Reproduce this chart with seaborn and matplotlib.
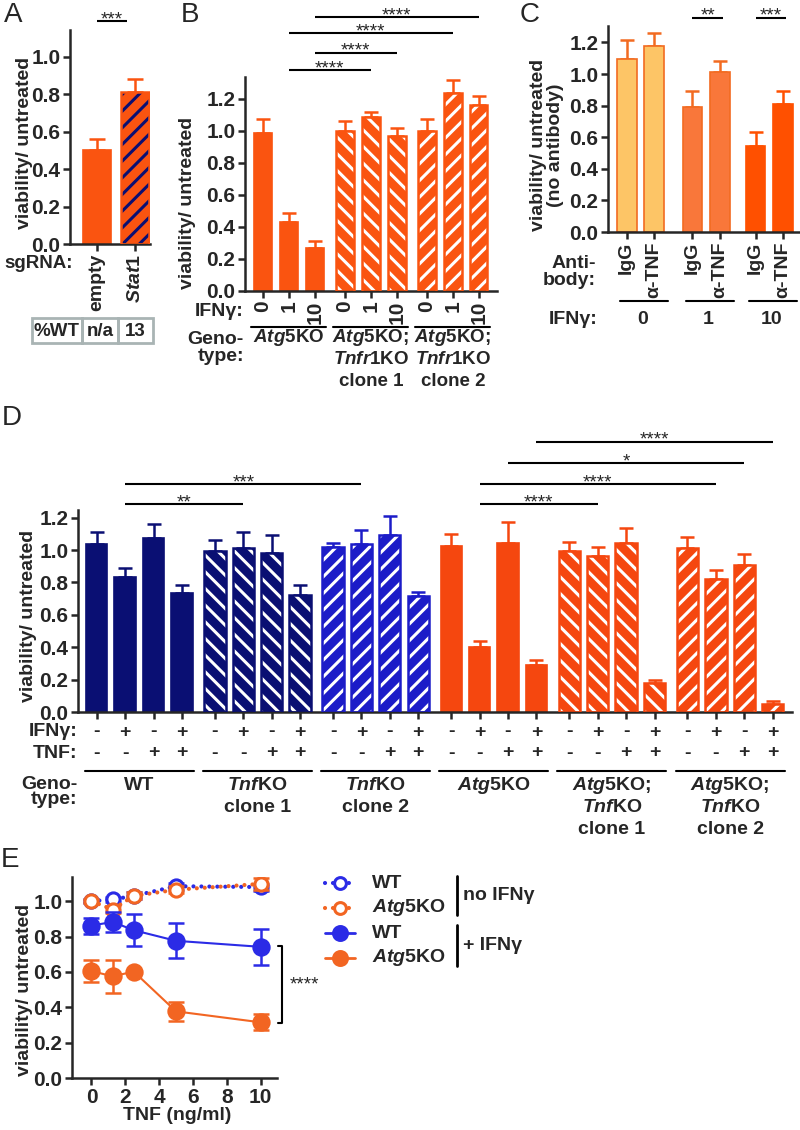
import numpy as np
import matplotlib
matplotlib.use('Agg')
import matplotlib.pyplot as plt
import matplotlib.transforms as mtransforms
from matplotlib.patches import Rectangle
from matplotlib.ticker import FormatStrFormatter
import seaborn as sns

# ---------------- data ----------------
# A: Stat1 knockout
A_SGRNA = ['empty', r'$\it{Stat1}$']
A_MEAN = [0.50, 0.81]
A_ERR = [0.06, 0.07]
A_TABLE = ['%WT', 'n/a', '13']
A_SIG = [(0, 1, '***')]

# B: Tnfr1 knockout
B_IFN = ['0', '1', '10'] * 3
B_GENO = [[r'$\it{Atg5}$KO'],
          [r'$\it{Atg5}$KO;', r'$\it{Tnfr1}$KO', 'clone 1'],
          [r'$\it{Atg5}$KO;', r'$\it{Tnfr1}$KO', 'clone 2']]
B_MEAN = [0.99, 0.43, 0.27, 1.00, 1.09, 0.97, 1.00, 1.24, 1.16]
B_ERR = [0.086, 0.06, 0.045, 0.062, 0.031, 0.05, 0.075, 0.08, 0.057]
B_SIG = [(2, 8, '****'), (1, 7, '****'), (2, 5, '****'), (1, 4, '****')]

# C: anti-TNF antibody
C_AB = ['IgG', 'α-TNF'] * 3
C_IFN = ['0', '1', '10']
C_MEAN = [1.095, 1.18, 0.79, 1.015, 0.545, 0.81]
C_ERR = [0.12, 0.08, 0.105, 0.065, 0.085, 0.085]
C_SIG = [(2, 3, '**'), (4, 5, '***')]

# D: Tnf knockout
D_IFN = ['-', '+', '-', '+'] * 6
D_TNF = ['-', '-', '+', '+'] * 6
D_GENO = [['WT'],
          [r'$\it{Tnf}$KO', 'clone 1'],
          [r'$\it{Tnf}$KO', 'clone 2'],
          [r'$\it{Atg5}$KO'],
          [r'$\it{Atg5}$KO;', r'$\it{Tnf}$KO', 'clone 1'],
          [r'$\it{Atg5}$KO;', r'$\it{Tnf}$KO', 'clone 2']]
D_MEAN = [1.035, 0.834, 1.075, 0.733,
          0.996, 1.014, 0.983, 0.72,
          1.017, 1.037, 1.095, 0.714,
          1.025, 0.40, 1.045, 0.29,
          0.994, 0.963, 1.045, 0.18,
          1.014, 0.818, 0.907, 0.05]
D_ERR = [0.075, 0.056, 0.088, 0.05,
         0.064, 0.096, 0.11, 0.063,
         0.028, 0.085, 0.115, 0.027,
         0.072, 0.04, 0.13, 0.03,
         0.056, 0.057, 0.09, 0.02,
         0.066, 0.056, 0.07, 0.02]
D_SIG = [(15, 23, '****'), (14, 22, '*'), (13, 21, '****'),
         (13, 17, '****'), (1, 9, '***'), (1, 5, '**')]

# E: TNF dose response
E_TNF = [0, 1.25, 2.5, 5, 10]
E_WT_NO = [1.0, 1.01, 1.03, 1.085, 1.08]
E_WT_NO_ERR = [0.01, 0.015, 0.02, 0.02, 0.02]
E_ATG_NO = [1.0, 0.953, 1.03, 1.065, 1.098]
E_ATG_NO_ERR = [0.01, 0.02, 0.02, 0.02, 0.035]
E_WT_IFN = [0.862, 0.883, 0.836, 0.776, 0.742]
E_WT_IFN_ERR = [0.045, 0.055, 0.092, 0.1, 0.102]
E_ATG_IFN = [0.605, 0.575, 0.602, 0.377, 0.315]
E_ATG_IFN_ERR = [0.062, 0.095, 0.01, 0.055, 0.045]
E_LEGEND = ['WT', r'$\it{Atg5}$KO', 'WT', r'$\it{Atg5}$KO']

# ---------------- style ----------------
sns.set_style('ticks')
plt.rcParams['font.family'] = ['Liberation Sans', 'DejaVu Sans']
plt.rcParams['font.weight'] = 'bold'
plt.rcParams['mathtext.fontset'] = 'custom'
plt.rcParams['mathtext.it'] = 'Liberation Sans:italic:bold'
plt.rcParams['mathtext.rm'] = 'Liberation Sans:bold'
plt.rcParams['mathtext.bf'] = 'Liberation Sans:bold'
plt.rcParams['hatch.linewidth'] = 2.2

FS = 14          # general text
FS_TICK = 15     # tick labels
FS_YLAB = 14     # y axis titles
FS_STAR = 13.5
ORANGE = '#FA5410'
ORANGE_D = '#F5470F'
NAVY = '#0A0F73'
BLUE = '#1C1CC8'
C_LIGHT, C_MID, C_DARK, C_EDGE = '#FDC566', '#F9773A', '#FF5000', '#F26B21'
E_BLUE, E_ORANGE = '#2B2BE6', '#F26522'
GRAY = '#A9B4B4'

W, H = 800, 1130
fig = plt.figure(figsize=(W / 100, H / 100), dpi=100)
ov = fig.add_axes([0, 0, 1, 1])
ov.set_xlim(0, W)
ov.set_ylim(H, 0)
ov.axis('off')
ov.set_zorder(10)


def px_axes(l, t, r, b):
    return fig.add_axes([l / W, 1 - b / H, (r - l) / W, (b - t) / H])


def txt(x, y, s, **kw):
    kw.setdefault('fontsize', FS)
    kw.setdefault('fontweight', 'bold')
    kw.setdefault('ha', 'center')
    kw.setdefault('va', 'center')
    ov.text(x, y, s, **kw)


def style_axes(ax):
    sns.despine(ax=ax)
    for s in ['left', 'bottom']:
        ax.spines[s].set_linewidth(1.8)
    ax.tick_params(direction='out', length=5, width=1.8, labelsize=FS_TICK, pad=2)
    ax.yaxis.set_major_formatter(FormatStrFormatter('%.1f'))
    ax.set_facecolor('none')


def draw_bars(ax, pos, mean, err, face, edge, hatch, hcol, width, cap):
    for x, m, e, fc, ec, h, hc in zip(pos, mean, err, face, edge, hatch, hcol):
        if h:
            ax.bar(x, m, width, color=fc, edgecolor=hc, hatch=h, linewidth=0, zorder=2)
            ax.bar(x, m, width, facecolor='none', edgecolor=ec, linewidth=1.8, zorder=3)
        else:
            ax.bar(x, m, width, color=fc, edgecolor=ec, linewidth=1.2, zorder=2)
        ax.errorbar(x, m, yerr=[[0], [e]], fmt='none', ecolor=ec, elinewidth=1.8,
                    capsize=cap, capthick=1.8, zorder=1)


def sig(ax, x0, x1, y, s):
    ax.plot([x0, x1], [y, y], color='k', lw=1.5, clip_on=False, solid_capstyle='butt')
    ax.annotate(s, xy=((x0 + x1) / 2, y), xytext=(0, -2), textcoords='offset points',
                ha='center', va='baseline', fontsize=FS_STAR, fontweight='normal',
                annotation_clip=False)


def group_text(ax, x0, x1, xc, line_y, rows_y, labels, fs=FS):
    tr = mtransforms.blended_transform_factory(ax.transData, ov.transData)
    ax.plot([x0, x1], [line_y, line_y], color='k', lw=1.5, transform=tr, clip_on=False)
    for lab, y in zip(labels, rows_y):
        ax.text(xc, y, lab, transform=tr, ha='center', va='center',
                fontsize=fs, fontweight='bold')


# ---------------- panel A ----------------
axA = px_axes(70, 30, 150, 244)
style_axes(axA)
posA = np.arange(len(A_MEAN))
draw_bars(axA, posA, A_MEAN, A_ERR, [ORANGE] * 2, [ORANGE] * 2,
          [None, '//'], [None, NAVY], 0.74, 6)
for i0, i1, s in A_SIG:
    sig(axA, posA[i0], posA[i1] - 0.21, 1.19, s)
axA.set_xticks(posA)
axA.set_xticklabels(A_SGRNA, rotation=90, fontsize=FS)
axA.set_yticks(np.arange(0, 1.01, 0.2))
axA.set_xlim(-0.71, 1.39)
axA.set_ylim(0, 1.144)
txt(25, 143, 'viability/ untreated', rotation=90, fontsize=FS_YLAB)
txt(73, 263, 'sgRNA:', ha='right', fontsize=13.5)
for x0, x1, s in zip([32, 82, 118], [82, 118, 153], A_TABLE):
    ov.add_patch(Rectangle((x0, 318), x1 - x0, 25, fill=False, edgecolor=GRAY, lw=2))
    txt((x0 + x1) / 2, 331, s, fontsize=13.5)

# ---------------- panel B ----------------
axB = px_axes(245, 77, 497, 291)
style_axes(axB)
posB = np.array([g * 3.17 + i for g in range(3) for i in range(3)])
draw_bars(axB, posB, B_MEAN, B_ERR, [ORANGE] * 9, [ORANGE] * 9,
          [None] * 3 + ['\\\\'] * 3 + ['//'] * 3, [None] * 3 + ['white'] * 6, 0.68, 4.7)
for (i0, i1, s), y in zip(B_SIG, [1.71, 1.61, 1.49, 1.38]):
    sig(axB, posB[i0], posB[i1], y, s)
axB.set_xticks(posB)
axB.set_xticklabels(B_IFN, rotation=90)
axB.set_yticks(np.arange(0, 1.21, 0.2))
axB.set_xlim(-0.70, 9.05)
axB.set_ylim(0, 1.3375)
txt(188, 203, 'viability/ untreated', rotation=90, fontsize=FS_YLAB)
txt(244, 311, 'IFNγ:', ha='right')
txt(244, 348, 'Geno-\ntype:', ha='right', linespacing=1.0)
for g, labs in enumerate(B_GENO):
    group_text(axB, posB[3 * g] - 0.45, posB[3 * g + 2] + 0.45, posB[3 * g + 1],
               327, [338, 360, 382], labs, fs=13.5)

# ---------------- panel C ----------------
axC = px_axes(608, 26, 800, 232)
style_axes(axC)
posC = np.array([0, 1, 2.4, 3.4, 4.7, 5.7])
faceC = [C_LIGHT] * 2 + [C_MID] * 2 + [C_DARK] * 2
edgeC = [C_EDGE] * 4 + [C_DARK] * 2
draw_bars(axC, posC, C_MEAN, C_ERR, faceC, edgeC, [None] * 6, [None] * 6, 0.72, 5)
for i0, i1, s in C_SIG:
    sig(axC, posC[i0], posC[i1] + 0.1, 1.354, s)
axC.set_xticks(posC)
axC.set_xticklabels(C_AB, rotation=90, fontsize=FS)
axC.set_yticks(np.arange(0, 1.21, 0.2))
axC.set_xlim(-0.68, 6.32)
axC.set_ylim(0, 1.304)
txt(547, 145, 'viability/ untreated\n(no antibody)', rotation=90, linespacing=1.05,
    fontsize=FS_YLAB)
txt(596, 272, 'Anti-\nbody:', ha='right', linespacing=1.0)
txt(597, 319, 'IFNγ:', ha='right')
for g, lab in enumerate(C_IFN):
    group_text(axC, posC[2 * g] - 0.25, posC[2 * g + 1] + 0.52,
               (posC[2 * g] + posC[2 * g + 1]) / 2 + 0.08, 301, [319], [lab])

# ---------------- panel D ----------------
axD = px_axes(78, 510, 792, 712)
style_axes(axD)
posD = np.array([g * 4.16 + i for g in range(6) for i in range(4)])
faceD = [NAVY] * 8 + [BLUE] * 4 + [ORANGE_D] * 12
hatchD = ([None] * 4 + ['\\\\'] * 4 + ['//'] * 4 +
          [None] * 4 + ['\\\\'] * 4 + ['//'] * 4)
hcolD = [None] * 4 + ['white'] * 8 + [None] * 4 + ['white'] * 8
draw_bars(axD, posD, D_MEAN, D_ERR, faceD, faceD, hatchD, hcolD, 0.75, 5)
for (i0, i1, s), y in zip(D_SIG, [1.667, 1.535, 1.406, 1.282, 1.406, 1.282]):
    sig(axD, posD[i0], posD[i1], y, s)
axD.set_xticks(posD)
axD.set_xticklabels([''] * len(posD))
axD.set_yticks(np.arange(0, 1.21, 0.2))
axD.set_xlim(-0.66, 24.48)
axD.set_ylim(0, 1.247)
txt(29, 616, 'viability/ untreated', rotation=90, fontsize=FS_YLAB)
trD = mtransforms.blended_transform_factory(axD.transData, ov.transData)
for x, a, b in zip(posD, D_IFN, D_TNF):
    axD.text(x, 732, a, transform=trD, ha='center', va='center', fontsize=FS, fontweight='bold')
    axD.text(x, 753, b, transform=trD, ha='center', va='center', fontsize=FS, fontweight='bold')
txt(77, 732, 'IFNγ:', ha='right')
txt(77, 753, 'TNF:', ha='right')
txt(77, 792, 'Geno-\ntype:', ha='right', linespacing=0.85)
for g, labs in enumerate(D_GENO):
    group_text(axD, posD[4 * g] - 0.42, posD[4 * g + 3] + 0.42,
               (posD[4 * g] + posD[4 * g + 3]) / 2, 771, [785, 807, 829], labs)

# ---------------- panel E ----------------
axE = px_axes(72, 877, 277, 1078)
style_axes(axE)
dotted = (0, (0.01, 1.9))
series = [
    (E_WT_NO, E_WT_NO_ERR, E_BLUE, False, 3),
    (E_ATG_NO, E_ATG_NO_ERR, E_ORANGE, False, 4),
    (E_WT_IFN, E_WT_IFN_ERR, E_BLUE, True, 5),
    (E_ATG_IFN, E_ATG_IFN_ERR, E_ORANGE, True, 6),
]
for y, e, col, filled, z in series:
    axE.errorbar(E_TNF, y, yerr=e, fmt='none', ecolor=col, elinewidth=1.8,
                 capsize=5.5, capthick=1.8, zorder=z)
    sns.lineplot(x=E_TNF, y=y, ax=axE, color=col, errorbar=None,
                 linestyle='-' if filled else dotted,
                 dash_capstyle='round', linewidth=1.5 if filled else 3,
                 marker='o', markersize=11 if filled else 9.5,
                 markerfacecolor=col if filled else 'white',
                 markeredgecolor=col, markeredgewidth=2.2, zorder=z)
axE.plot([11.0, 11.29, 11.29, 11.0], [0.747, 0.747, 0.313, 0.313],
         color='k', lw=1.5, clip_on=False)
axE.text(11.7, 0.526, '****', ha='left', va='center', fontsize=FS_STAR, fontweight='normal')
axE.set_xticks([0, 2, 4, 6, 8, 10])
axE.xaxis.set_major_formatter(FormatStrFormatter('%d'))
axE.set_yticks(np.arange(0, 1.01, 0.2))
axE.set_xlim(-1.15, 10.97)
axE.set_ylim(0, 1.137)
txt(25, 990, 'viability/ untreated', rotation=90, fontsize=FS_YLAB)
txt(177, 1116, 'TNF (ng/ml)')

# legend for E
leg_style = [(E_BLUE, False), (E_ORANGE, False), (E_BLUE, True), (E_ORANGE, True)]
for lab, (col, filled), y in zip(E_LEGEND, leg_style, [883, 908, 933, 958]):
    ov.plot([325, 340, 355], [y, y, y], color=col,
            linestyle='-' if filled else dotted, dash_capstyle='round',
            lw=2 if filled else 3, marker='o', markevery=[1],
            ms=10 if filled else 8.5, mfc=col if filled else 'white',
            mec=col, mew=2.2)
    txt(372, y, lab, ha='left')
ov.plot([456.7, 456.7], [876, 915], color='k', lw=2)
ov.plot([456.7, 456.7], [925, 966], color='k', lw=2)
txt(463, 895, 'no IFNγ', ha='left')
txt(463, 945, '+ IFNγ', ha='left')

# panel letters
for s, x, y in [('A', 13, 15), ('B', 190, 15), ('C', 530, 15), ('D', 12, 418), ('E', 10, 860)]:
    txt(x, y, s, fontsize=20, fontweight='normal')

fig.savefig('out.png', dpi=100)
